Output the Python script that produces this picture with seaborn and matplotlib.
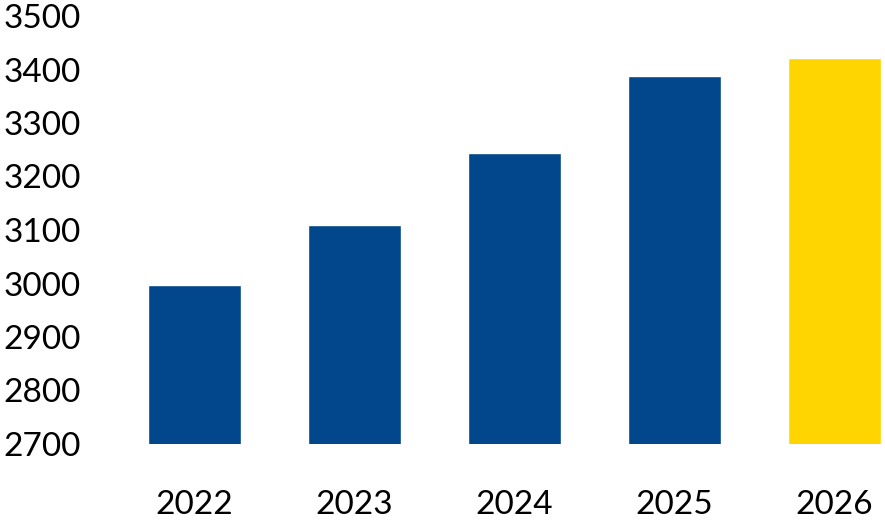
import matplotlib.pyplot as plt
import seaborn as sns
import pandas as pd

years = ['2022', '2023', '2024', '2025', '2026']
values = [2998, 3109, 3244, 3388, 3421]
bar_colors = ['#02468B', '#02468B', '#02468B', '#02468B', '#FFD500']

df = pd.DataFrame({'Year': years, 'Value': values})

sns.set_style('white')
plt.rcParams['font.family'] = ['Lato', 'DejaVu Sans']

fig = plt.figure(figsize=(8.85, 5.21), dpi=100)
ax = fig.add_axes([114.5 / 885, 77 / 521, 770.5 / 885, 428 / 521])

# saturation=1 para manter as cores originais
sns.barplot(data=df, x='Year', y='Value', hue='Year', palette=bar_colors,
            width=0.58, saturation=1, legend=False, ax=ax)

ax.set_ylim(2700, 3500)
ax.set_xlim(-0.5, -0.5 + 770.5 / 160)
ax.set_yticks(range(2700, 3501, 100))
ax.set_xlabel('')
ax.set_ylabel('')
for s in ax.spines.values():
    s.set_visible(False)
ax.tick_params(axis='y', length=0, pad=24.5, labelsize=24, labelcolor='black')
ax.tick_params(axis='x', length=0, pad=33, labelsize=24, labelcolor='black')

fig.savefig('out.png', dpi=100)
